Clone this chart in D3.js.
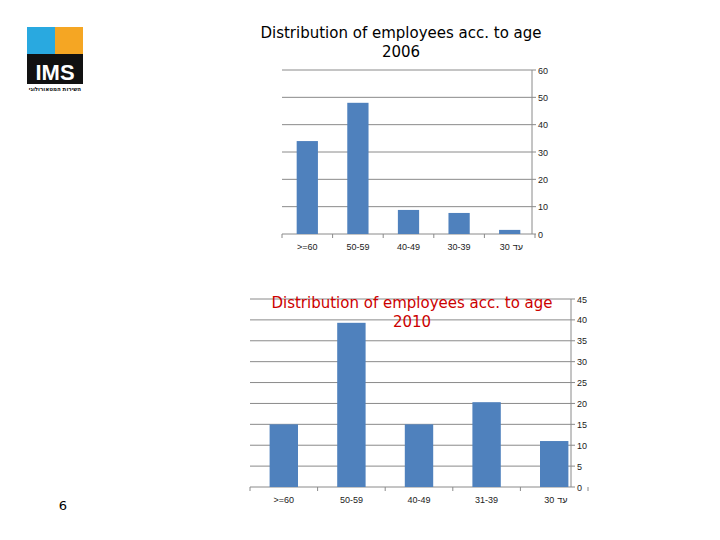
<!DOCTYPE html>
<html><head><meta charset="utf-8">
<script src="https://cdn.jsdelivr.net/npm/d3@7"></script>
<style>body{margin:0;background:#fff}svg{display:block}</style>
</head><body>
<script>
const categories2006 = [">=60","50-59","40-49","30-39","30 \u05E2\u05D3"];
const values2006 = [34,48,8.8,7.7,1.5];
const ticks2006 = [0,10,20,30,40,50,60];
const categories2010 = [">=60","50-59","40-49","31-39","30 \u05E2\u05D3"];
const values2010 = [15,39.3,15,20.3,11];
const ticks2010 = [0,5,10,15,20,25,30,35,40,45];

const svg = d3.select("body").append("svg").attr("width",720).attr("height",540);

// logo
const g = svg.append("g");
g.append("rect").attr("x",27).attr("y",27).attr("width",28).attr("height",27).attr("fill","#29a9e0");
g.append("rect").attr("x",55).attr("y",27).attr("width",28).attr("height",27).attr("fill","#f5a623");
g.append("rect").attr("x",27).attr("y",54).attr("width",56).attr("height",30).attr("fill","#111");
g.append("text").attr("x",55).attr("y",80).attr("text-anchor","middle").attr("fill","#fff")
 .attr("font-family","Liberation Sans, Arial").attr("font-weight","bold").attr("font-size",22).text("IMS");
g.append("text").attr("x",55).attr("y",91).attr("text-anchor","middle").attr("fill","#111")
 .attr("font-family","DejaVu Sans").attr("font-size",5.5).attr("font-weight","bold").text("השירות המטאורולוגי");

function chart(cats, vals, ticks, x0, x1, axisX, y0, yTop, maxV, title, titleColor, tx, ty){
  const x = d3.scaleBand().domain(cats).range([x0,x1]).paddingInner(0.58).paddingOuter(0.29);
  const y = d3.scaleLinear().domain([0,maxV]).range([y0,yTop]);
  const c = svg.append("g");
  c.selectAll(".grid").data(ticks).join("line").attr("x1",x0).attr("x2",axisX)
   .attr("y1",d=>y(d)).attr("y2",d=>y(d)).attr("stroke","#8a8a8a").attr("stroke-width",1);
  c.append("line").attr("x1",axisX).attr("x2",axisX).attr("y1",yTop).attr("y2",y0).attr("stroke","#8a8a8a");
  c.selectAll(".tk").data(ticks).join("line").attr("x1",axisX).attr("x2",axisX+4)
   .attr("y1",d=>y(d)).attr("y2",d=>y(d)).attr("stroke","#8a8a8a");
  const step = x.step();
  c.selectAll(".xt").data(d3.range(cats.length+1)).join("line")
   .attr("x1",i=>x0+i*step).attr("x2",i=>x0+i*step).attr("y1",y0).attr("y2",y0+4).attr("stroke","#8a8a8a");
  c.selectAll(".bar").data(vals).join("rect").attr("x",(d,i)=>x(cats[i])).attr("width",x.bandwidth())
   .attr("y",d=>y(d)).attr("height",d=>y0-y(d)).attr("fill","#4f81bd");
  c.selectAll(".yl").data(ticks).join("text").attr("x",axisX+6).attr("y",d=>y(d)+3.5)
   .attr("font-family","Liberation Sans, Arial").attr("font-size",9).attr("fill","#222").text(d=>d);
  cats.forEach(d=>{
    const cx = x(d)+x.bandwidth()/2;
    const parts = d.split(" ");
    const base = {"font-family":"Liberation Sans, Arial","font-size":9,"fill":"#222"};
    if(parts.length===1){
      const t=c.append("text").attr("x",cx).attr("y",y0+16).attr("text-anchor","middle").text(d);
      Object.entries(base).forEach(([k,v])=>t.attr(k,v));
    } else {
      const a=c.append("text").attr("x",cx).attr("y",y0+16).attr("text-anchor","end").text(parts[0]);
      const b=c.append("text").attr("x",cx+3).attr("y",y0+16).attr("text-anchor","start").text(parts[1]);
      [a,b].forEach(t=>Object.entries(base).forEach(([k,v])=>t.attr(k,v)));
    }
  });
  const t = svg.append("text").attr("x",tx).attr("y",ty).attr("text-anchor","middle")
   .attr("font-family","DejaVu Sans").attr("font-size",15).attr("fill",titleColor);
  t.append("tspan").attr("x",tx).attr("dy",0).text(title[0]);
  t.append("tspan").attr("x",tx).attr("dy",19).text(title[1]);
}
chart(categories2006, values2006, ticks2006, 282, 535, 532, 234, 70, 60,
  ["Distribution of employees acc. to age","2006"], "#000", 401, 38);
chart(categories2010, values2010, ticks2010, 250, 588, 571, 487, 299, 45,
  ["Distribution of employees acc. to age","2010"], "#cc0000", 412, 308);
svg.append("text").attr("x",63).attr("y",510).attr("text-anchor","middle")
 .attr("font-family","DejaVu Sans").attr("font-size",13).text("6");
</script>
</body></html>
